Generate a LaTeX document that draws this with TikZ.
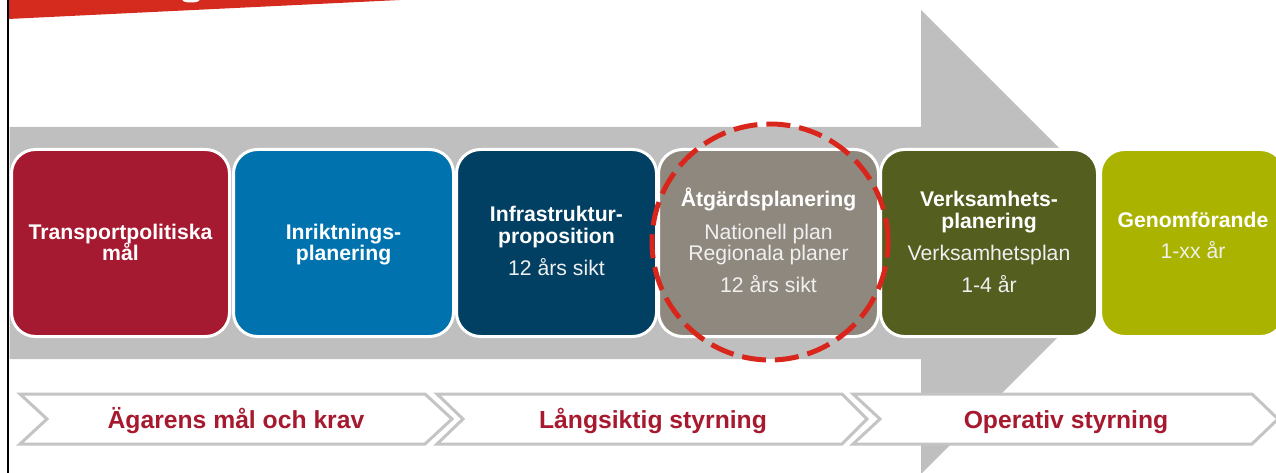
\documentclass[tikz,border=0pt]{standalone}
\usepackage{fontspec}
\setmainfont{Liberation Sans}
\definecolor{bannerred}{HTML}{D52B1E}
\definecolor{arrowgray}{HTML}{BFBFBF}
\definecolor{chevgray}{HTML}{C4C4C4}
\definecolor{cA}{HTML}{A51931}
\definecolor{cB}{HTML}{0072AE}
\definecolor{cC}{HTML}{013F63}
\definecolor{cD}{HTML}{8F887E}
\definecolor{cE}{HTML}{535E1F}
\definecolor{cF}{HTML}{AAB400}
\definecolor{circred}{HTML}{D9261C}
\definecolor{labred}{HTML}{A6192E}
\tikzset{
  stagebox/.style={draw=white, line width=3pt, rounded corners=24pt, minimum height=187pt, inner sep=0pt},
  tb/.style={anchor=base, inner sep=0pt, text=white, font=\fontsize{21.2}{21.2}\selectfont\bfseries},
  tr/.style={anchor=base, inner sep=0pt, text=white!94!black, font=\fontsize{21.2}{21.2}\selectfont},
  chev/.style={draw=chevgray, line width=3pt, fill=white, line join=miter},
  chevtext/.style={anchor=base, inner sep=0pt, text=labred, font=\fontsize{24.7}{24.7}\selectfont\bfseries},
  focus/.style={draw=circred, line width=5pt, circle, minimum size=236pt, inner sep=0pt, dash pattern=on 24pt off 9pt}
}
\begin{document}
\begin{tikzpicture}[x=1pt, y=-1pt]
\useasboundingbox (0,0) rectangle (1276,473);
% top banner
\fill[bannerred] (8,0) -- (400,0) -- (8,19) -- cycle;
\fill[white] (191,0) ellipse (8.5 and 2.5);
% big gray arrow
\fill[arrowgray] (9.5,127) -- (921,127) -- (921,10) -- (1153,242) -- (921,474) -- (921,359) -- (9.5,359) -- cycle;
% stage boxes
\node[stagebox, fill=cA, minimum width=218pt] (b1) at (120.5,243) {};
\node[stagebox, fill=cB, minimum width=220pt] (b2) at (343.5,243) {};
\node[stagebox, fill=cC, minimum width=200pt] (b3) at (556.5,243) {};
\node[stagebox, fill=cD, minimum width=220pt] (b4) at (768.5,243) {};
\node[stagebox, fill=cE, minimum width=217pt] (b5) at (989,243) {};
\node[stagebox, fill=cF, minimum width=184pt] (b6) at (1192.5,243) {};
% texts
\node[tb] (t1a) at (120.5,239) {Transportpolitiska};
\node[tb] (t1b) at (120.5,260) {mål};
\node[tb] (t2a) at (343.5,239) {Inriktnings-};
\node[tb] (t2b) at (343.5,260) {planering};
\node[tb] (t3a) at (556.5,222) {Infrastruktur-};
\node[tb] (t3b) at (556.5,243) {proposition};
\node[tr] (t3c) at (556.5,275) {12 års sikt};
\node[tb] (t4a) at (768.5,207) {Åtgärdsplanering};
\node[tr] (t4b) at (768.5,239) {Nationell plan};
\node[tr] (t4c) at (768.5,260) {Regionala planer};
\node[tr] (t4d) at (768.5,292) {12 års sikt};
\node[tb] (t5a) at (989,207) {Verksamhets-};
\node[tb] (t5b) at (989,228) {planering};
\node[tr] (t5c) at (989,260) {Verksamhetsplan};
\node[tr] (t5d) at (989,292) {1-4 år};
\node[tb] (t6a) at (1193,227) {Genomförande};
\node[tr] (t6b) at (1193,258) {1-xx år};
% dashed focus circle
\node[focus] (ring) at (770,242) {};
% bottom chevrons
\draw[chev] (20,394) -- (425,394) -- (452,419) -- (425,444) -- (20,444) -- (47,419) -- cycle;
\draw[chev] (437,394) -- (842,394) -- (867,419) -- (842,444) -- (437,444) -- (463,419) -- cycle;
\draw[chev] (853,394) -- (1252,394) -- (1278,419) -- (1252,444) -- (853,444) -- (880,419) -- cycle;
\node[chevtext] (c1) at (236,428.5) {Ägarens mål och krav};
\node[chevtext] (c2) at (653,428.5) {Långsiktig styrning};
\node[chevtext] (c3) at (1066,428.5) {Operativ styrning};
% left black rule
\draw[line width=2pt] (8.3,0) -- (8.3,473);
\end{tikzpicture}
\end{document}
